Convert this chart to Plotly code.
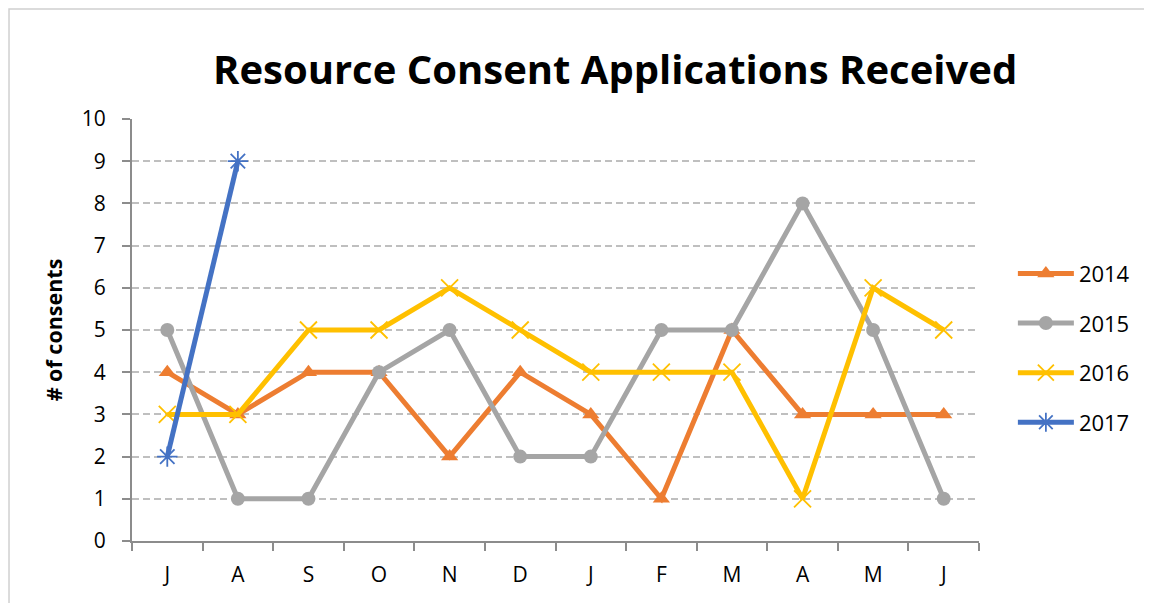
import plotly.graph_objects as go

months = ["J", "A", "S", "O", "N", "D", "J", "F", "M", "A", "M", "J"]
s2014 = [4, 3, 4, 4, 2, 4, 3, 1, 5, 3, 3, 3]
s2015 = [5, 1, 1, 4, 5, 2, 2, 5, 5, 8, 5, 1]
s2016 = [3, 3, 5, 5, 6, 5, 4, 4, 4, 1, 6, 5]
s2017 = [2, 9]

xpos = list(range(1, len(months) + 1))
FONT = "Open Sans"

series = [
    ("2014", s2014, "#ED7D31", dict(symbol="triangle-up", size=15)),
    ("2015", s2015, "#A5A5A5", dict(symbol="circle", size=14)),
    ("2016", s2016, "#FFC000", dict(symbol="x-thin", size=17, line=dict(width=1.8, color="#FFC000"))),
    ("2017", s2017, "#4472C4", dict(symbol="asterisk", size=17, line=dict(width=1.8, color="#4472C4"))),
]

fig = go.Figure()
for name, vals, color, mk in series:
    mk = dict(mk)
    mk["color"] = color
    fig.add_trace(go.Scatter(
        x=xpos[:len(vals)], y=vals, name=name, mode="lines+markers", legendgroup=name,
        line=dict(color=color, width=5), marker=mk,
    ))

fig.update_layout(
    width=1152, height=603,
    margin=dict(l=124, r=181, t=111, b=70),
    paper_bgcolor="white", plot_bgcolor="white",
    font=dict(family=FONT, color="black"),
    title=dict(text="<b>Resource Consent Applications Received</b>",
               x=0.527, xanchor="center", y=0.897, yanchor="middle",
               font=dict(size=40, family=FONT, color="black")),
    legend=dict(x=1.040, y=0.457, xanchor="left", yanchor="middle",
                font=dict(size=22, family=FONT), itemwidth=56,
                tracegroupgap=18, bgcolor="rgba(0,0,0,0)"),
    showlegend=True,
)
fig.update_xaxes(
    range=[0.5, 12.5], tickvals=xpos, ticktext=months,
    showgrid=False, ticks="", showline=True, linecolor="#8C8C8C", linewidth=2,
    tickfont=dict(size=21, family=FONT), zeroline=False, ticklabelstandoff=14,
    minor=dict(ticks="outside", tick0=0.5, dtick=1, ticklen=8, tickcolor="#8C8C8C",
               tickwidth=2, showgrid=False),
)
fig.update_yaxes(
    range=[0, 10], dtick=1, showgrid=True, gridcolor="#BFBFBF", griddash="7px,4px",
    gridwidth=1.5, ticks="outside", ticklen=8, tickcolor="#8C8C8C", tickwidth=2,
    showline=True, linecolor="#8C8C8C", linewidth=2, zeroline=False,
    tickfont=dict(size=21, family=FONT), ticklabelstandoff=12,
    title=dict(text="<b># of consents</b>", font=dict(size=21.5, family=FONT), standoff=13),
)
# outer chart border
fig.add_shape(type="rect", xref="paper", yref="paper",
              x0=-0.1452, y0=-0.3, x1=1.4, y1=1.2607,
              line=dict(color="#D0D0D0", width=1.5), fillcolor="rgba(0,0,0,0)", layer="below")

fig.write_html("out.html")
